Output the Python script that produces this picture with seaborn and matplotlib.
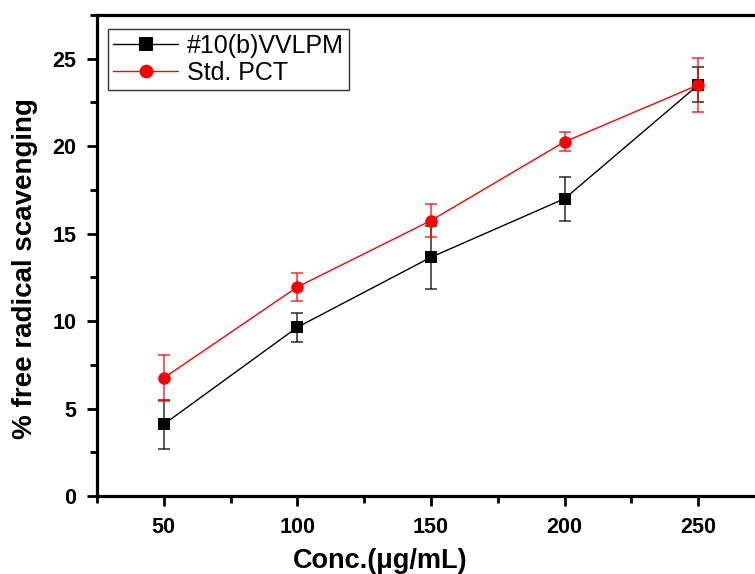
import matplotlib
matplotlib.use("Agg")
import matplotlib.pyplot as plt
import seaborn as sns
import pandas as pd
from matplotlib.ticker import MultipleLocator

conc = [50, 100, 150, 200, 250]
vvlpm = [4.1, 9.65, 13.65, 17.0, 23.5]
vvlpm_err = [1.4, 0.84, 1.8, 1.25, 1.0]
pct = [6.75, 11.95, 15.75, 20.25, 23.5]
pct_err = [1.3, 0.82, 0.95, 0.55, 1.55]
series_names = ["#10(b)VVLPM", "Std. PCT"]
colors = ["black", "#ff0000"]
markers = ["s", "o"]

sns.set_theme(style="ticks")
plt.rcParams['font.family'] = ['Liberation Sans', 'DejaVu Sans']
plt.rcParams.update({"text.color": "black", "axes.labelcolor": "black",
                     "xtick.color": "black", "ytick.color": "black",
                     "axes.edgecolor": "black"})

df = pd.DataFrame({
    "conc": conc * 2,
    "value": vvlpm + pct,
    "series": [series_names[0]] * 5 + [series_names[1]] * 5,
})

fig = plt.figure(figsize=(7.55, 5.74), dpi=100)
ax = fig.add_axes([97/755, 78/574, (765-97)/755, (496-15)/574])

for (name, vals, errs), c, m in zip(
        [(series_names[0], vvlpm, vvlpm_err), (series_names[1], pct, pct_err)], colors, markers):
    ax.errorbar(conc, vals, yerr=errs, fmt="none", ecolor=c, elinewidth=1.3,
                capsize=4.5, capthick=1.3, alpha=0.7, zorder=2)

sns.lineplot(data=df, x="conc", y="value", hue="series", style="series",
             palette=dict(zip(series_names, colors)),
             markers=dict(zip(series_names, markers)), dashes=False,
             markersize=9, markeredgewidth=0, linewidth=1.0, ax=ax, zorder=3)

ax.set_xlim(25, 275)
ax.set_ylim(0, 27.5)
ax.xaxis.set_major_locator(MultipleLocator(50))
ax.xaxis.set_minor_locator(MultipleLocator(25))
ax.yaxis.set_major_locator(MultipleLocator(5))
ax.yaxis.set_minor_locator(MultipleLocator(2.5))
ax.tick_params(which="major", direction="out", length=7, width=2, labelsize=15.5, pad=8,
               colors="black")
ax.tick_params(which="minor", direction="out", length=5, width=2, colors="black")
for lab in ax.get_xticklabels() + ax.get_yticklabels():
    lab.set_fontweight("bold")
for s in ax.spines.values():
    s.set_linewidth(2.3)
    s.set_color("black")
    s.set_visible(True)

ax.set_xlabel("Conc.(μg/mL)", fontsize=19.5, fontweight="bold")
ax.set_ylabel("% free radical scavenging", fontsize=20, fontweight="bold")
ax.xaxis.set_label_coords((380-97)/(765-97), -(548-496)/481)
ax.yaxis.set_label_coords((38-97)/(765-97), (496-269)/481)

leg = ax.legend(loc="upper left", bbox_to_anchor=((108-97)/668, (496-29)/481), fontsize=18,
                frameon=True, fancybox=False, handlelength=2.6, borderpad=0.2,
                labelspacing=0.1, handletextpad=0.35, borderaxespad=0, markerscale=1.1)
leg.get_frame().set_edgecolor("black")
leg.get_frame().set_linewidth(1.0)

fig.savefig("out.png", dpi=100)
